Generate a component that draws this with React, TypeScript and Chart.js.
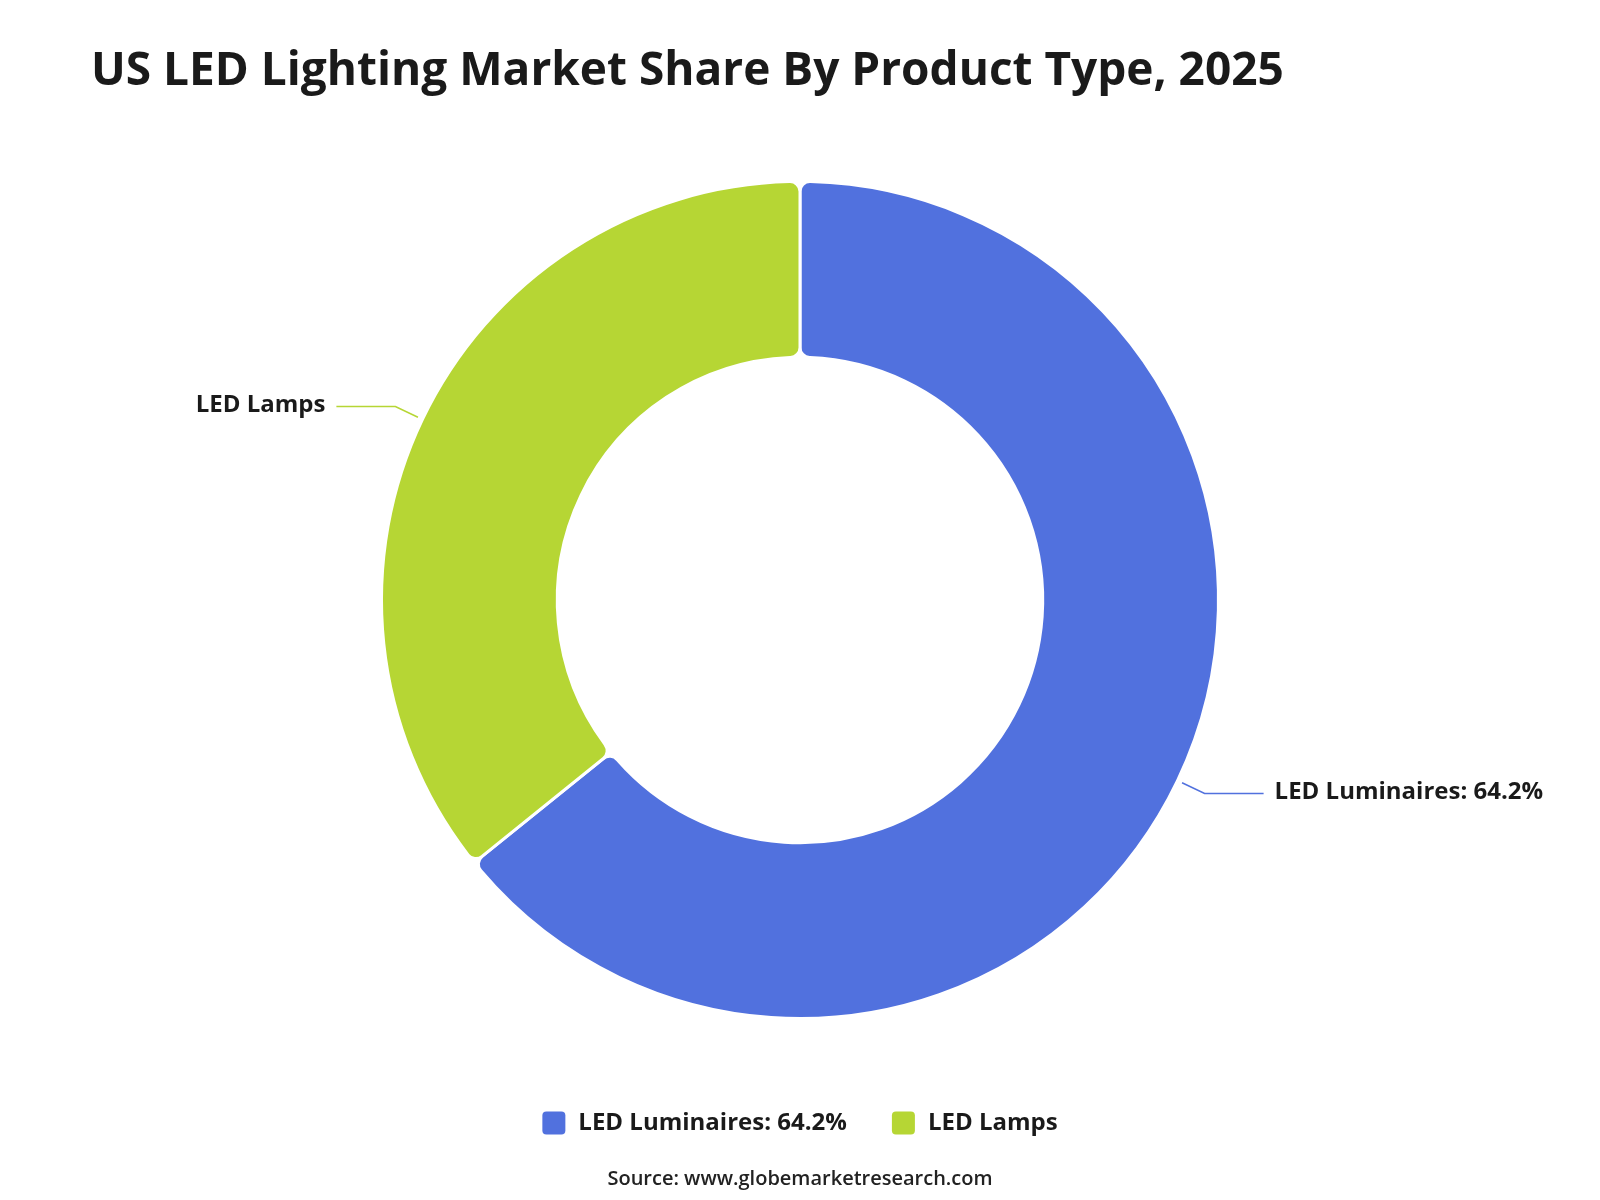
import React, { useEffect, useRef } from "react";
import { Chart, registerables } from "chart.js";

Chart.register(...registerables);

const titleText = "US LED Lighting Market Share By Product Type, 2025";
const sourceText = "Source: www.globemarketresearch.com";
const categories = ["LED Luminaires", "LED Lamps"];
const shareValues = [64.2, 35.8];
const labelTexts = ["LED Luminaires: 64.2%", "LED Lamps"];
const colors = ["#5171DE", "#B6D634"];

const FONT = "'Open Sans', 'Noto Sans', sans-serif";

const overlayPlugin = {
  id: "overlay",
  afterDatasetsDraw(chart: any) {
    const ctx = chart.ctx as CanvasRenderingContext2D;
    const meta = chart.getDatasetMeta(0);
    ctx.save();
    // title
    ctx.fillStyle = "#1a1a1a";
    ctx.font = `bold 46px ${FONT}`;
    ctx.textAlign = "left";
    ctx.textBaseline = "middle";
    ctx.fillText(titleText, 91, 72);

    // leader labels
    meta.data.forEach((arc: any, i: number) => {
      const p = arc.getProps(["x", "y", "startAngle", "endAngle", "outerRadius"], true);
      const mid = (p.startAngle + p.endAngle) / 2;
      const dx = Math.cos(mid);
      const dy = Math.sin(mid);
      const x1 = p.x + dx * (p.outerRadius + 5);
      const y1 = p.y + dy * (p.outerRadius + 5);
      const x2 = p.x + dx * (p.outerRadius + 30);
      const y2 = p.y + dy * (p.outerRadius + 30);
      const right = dx >= 0;
      const x3 = x2 + (right ? 59 : -59);
      ctx.strokeStyle = colors[i];
      ctx.lineWidth = 1.5;
      ctx.beginPath();
      ctx.moveTo(x1, y1);
      ctx.lineTo(x2, y2);
      ctx.lineTo(x3, y2);
      ctx.stroke();
      ctx.fillStyle = "#1a1a1a";
      ctx.font = `bold 24px ${FONT}`;
      ctx.textAlign = right ? "left" : "right";
      ctx.textBaseline = "middle";
      ctx.fillText(labelTexts[i], x3 + (right ? 11 : -11), y2 - 1);
    });

    // legend
    ctx.font = `bold 24px ${FONT}`;
    const box = 23;
    const gapBoxText = 13;
    const itemGap = 45;
    const widths = labelTexts.map((t) => ctx.measureText(t).width);
    const total = widths.reduce((a, w) => a + box + gapBoxText + w, 0) + itemGap * (labelTexts.length - 1);
    let x = 800 - total / 2;
    const ly = 1123;
    labelTexts.forEach((t, i) => {
      ctx.fillStyle = colors[i];
      ctx.beginPath();
      (ctx as any).roundRect(x, ly - box / 2, box, box, 4);
      ctx.fill();
      ctx.fillStyle = "#1a1a1a";
      ctx.textAlign = "left";
      ctx.textBaseline = "middle";
      ctx.fillText(t, x + box + gapBoxText, ly);
      x += box + gapBoxText + widths[i] + itemGap;
    });

    // source
    ctx.font = `600 20px ${FONT}`;
    ctx.fillStyle = "#222";
    ctx.textAlign = "center";
    ctx.fillText(sourceText, 800, 1179);
    ctx.restore();
  },
};

export default function App() {
  const ref = useRef<HTMLCanvasElement>(null);
  useEffect(() => {
    if (!ref.current) return;
    const chart = new Chart(ref.current, {
      type: "doughnut",
      data: {
        labels: categories,
        datasets: [
          {
            data: shareValues,
            backgroundColor: colors,
            borderColor: "#ffffff",
            borderWidth: 3,
            borderRadius: 10,
            hoverOffset: 0,
          },
        ],
      },
      options: {
        responsive: false,
        animation: false,
        cutout: "58%",
        layout: { padding: { left: 380, right: 380, top: 180, bottom: 180 } },
        plugins: {
          legend: { display: false },
          title: { display: false },
          tooltip: { enabled: false },
        },
      },
      plugins: [overlayPlugin],
    });
    return () => chart.destroy();
  }, []);
  return (
    <div style={{ position: "absolute", left: 0, top: 0, width: 1600, height: 1200, background: "#fff" }}>
      <canvas ref={ref} width={1600} height={1200} style={{ width: 1600, height: 1200 }} />
    </div>
  );
}
